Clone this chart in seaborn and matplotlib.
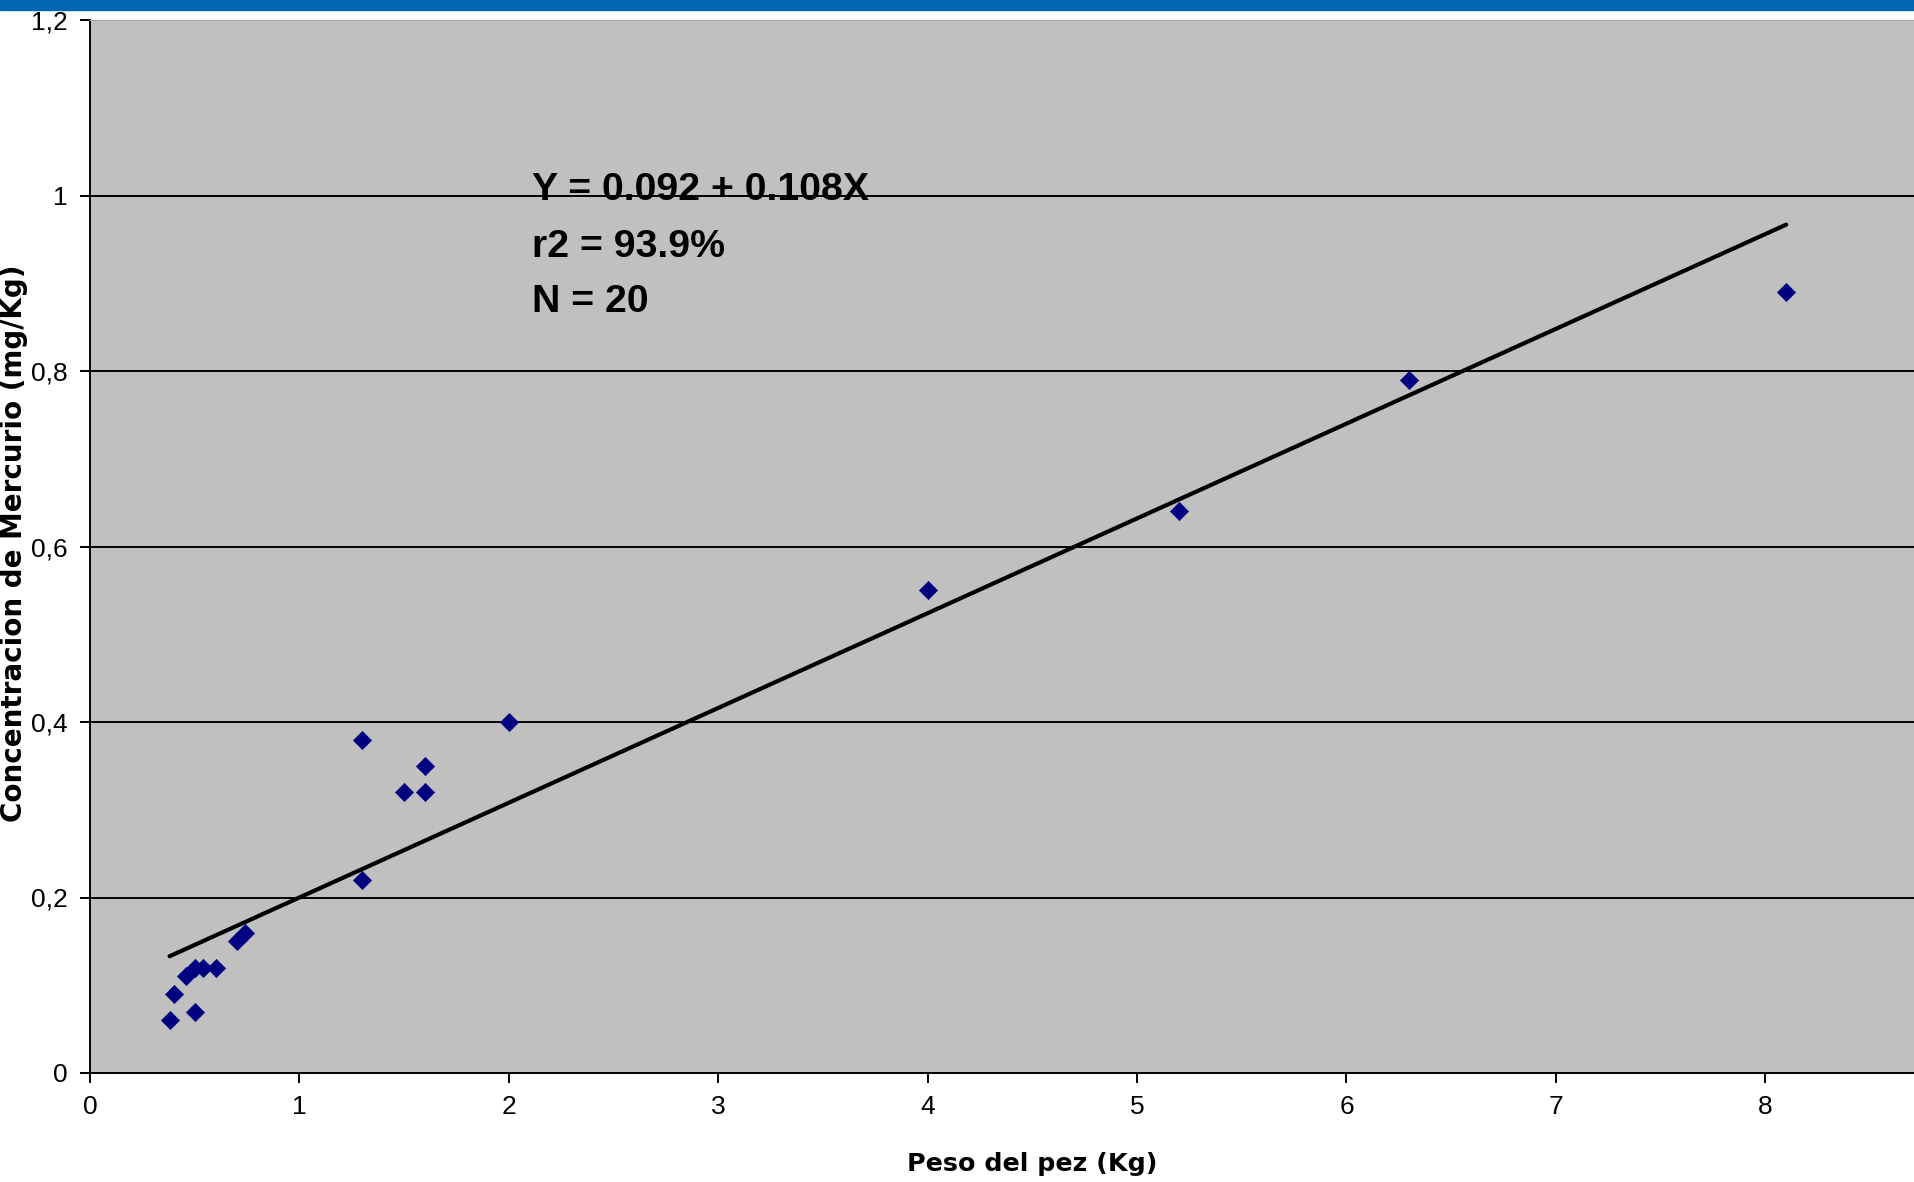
import matplotlib.pyplot as plt
import matplotlib as mpl
from matplotlib.patches import Rectangle
from matplotlib.ticker import FuncFormatter
import seaborn as sns
import pandas as pd

# weight (kg) and mercury concentration (mg/kg)
peso = [0.38, 0.40, 0.46, 0.50, 0.50, 0.54, 0.60, 0.70, 0.74,
        1.30, 1.30, 1.50, 1.60, 1.60, 2.00, 4.00, 5.20, 6.30, 8.10]
mercurio = [0.06, 0.09, 0.11, 0.07, 0.12, 0.12, 0.12, 0.15, 0.16,
            0.22, 0.38, 0.32, 0.35, 0.32, 0.40, 0.55, 0.64, 0.79, 0.89]

intercepto = 0.092
pendiente = 0.108
anotaciones = ["Y = 0.092 + 0.108X", "r2 = 93.9%", "N = 20"]

x_ticks = [0, 1, 2, 3, 4, 5, 6, 7, 8]
y_ticks = [0, 0.2, 0.4, 0.6, 0.8, 1.0, 1.2]

df = pd.DataFrame({'Peso': peso, 'Hg': mercurio})
x_fit = [min(peso), max(peso)]
df_fit = pd.DataFrame({'Peso': x_fit,
                       'Hg': [intercepto + pendiente * v for v in x_fit]})

sns.set_theme(style="ticks")
mpl.rcParams.update({
    'font.family': ['Liberation Sans', 'DejaVu Sans'],
    'axes.linewidth': 1.4,
    'text.color': 'black',
    'axes.labelcolor': 'black',
})

fig = plt.figure(figsize=(19.15, 11.82), dpi=100)
ax = fig.add_axes([90 / 1915, 1 - 1073 / 1182, 1 - 90 / 1915, (1073 - 20) / 1182])
ax.set_facecolor('#c0c0c0')

# blue band at the top of the slide
fig.patches.append(Rectangle((0, 1 - 10 / 1182), 1, 10 / 1182,
                             transform=fig.transFigure, color='#0067b1',
                             zorder=0))

ax.yaxis.grid(True, color='black', linewidth=1.4)
ax.xaxis.grid(False)
ax.set_axisbelow(True)

sns.lineplot(data=df_fit, x='Peso', y='Hg', color='black', linewidth=3,
             ax=ax, zorder=3)
sns.scatterplot(data=df, x='Peso', y='Hg', marker='D', s=85,
                color='#000080', edgecolor='#000080', linewidth=0.5,
                ax=ax, zorder=4)

ax.set_xlim(0, 8.715)
ax.set_ylim(0, 1.2)
ax.set_xticks(x_ticks)
ax.set_yticks(y_ticks)
ax.yaxis.set_major_formatter(FuncFormatter(
    lambda v, p: ('%g' % v).replace('.', ',')))
ax.tick_params(direction='out', length=7, width=1.4, colors='black',
               labelsize=19, pad=9)

ax.spines['right'].set_visible(False)
ax.spines['top'].set_color('#a8a8a8')
ax.spines['top'].set_linewidth(1.0)
ax.spines['left'].set_color('black')
ax.spines['bottom'].set_color('black')

ax.set_xlabel('Peso del pez (Kg)', fontsize=18.3, fontweight='bold',
              family='DejaVu Sans')
ax.xaxis.set_label_coords(0.516, -0.075)
ax.set_ylabel('Concentracion de Mercurio (mg/Kg)', fontsize=20,
              fontweight='bold', family='DejaVu Sans')
ax.yaxis.set_label_coords(-62 / 1825, (1073 - 543) / 1053)

for texto, yb in zip(anotaciones, [0.829, 0.775, 0.723]):
    ax.text(0.242, yb, texto, transform=ax.transAxes, fontsize=28.3,
            fontweight='bold', va='baseline', ha='left', color='black',
            family=['Liberation Sans Narrow', 'Liberation Sans', 'DejaVu Sans'])

plt.savefig('out.png', dpi=100)
